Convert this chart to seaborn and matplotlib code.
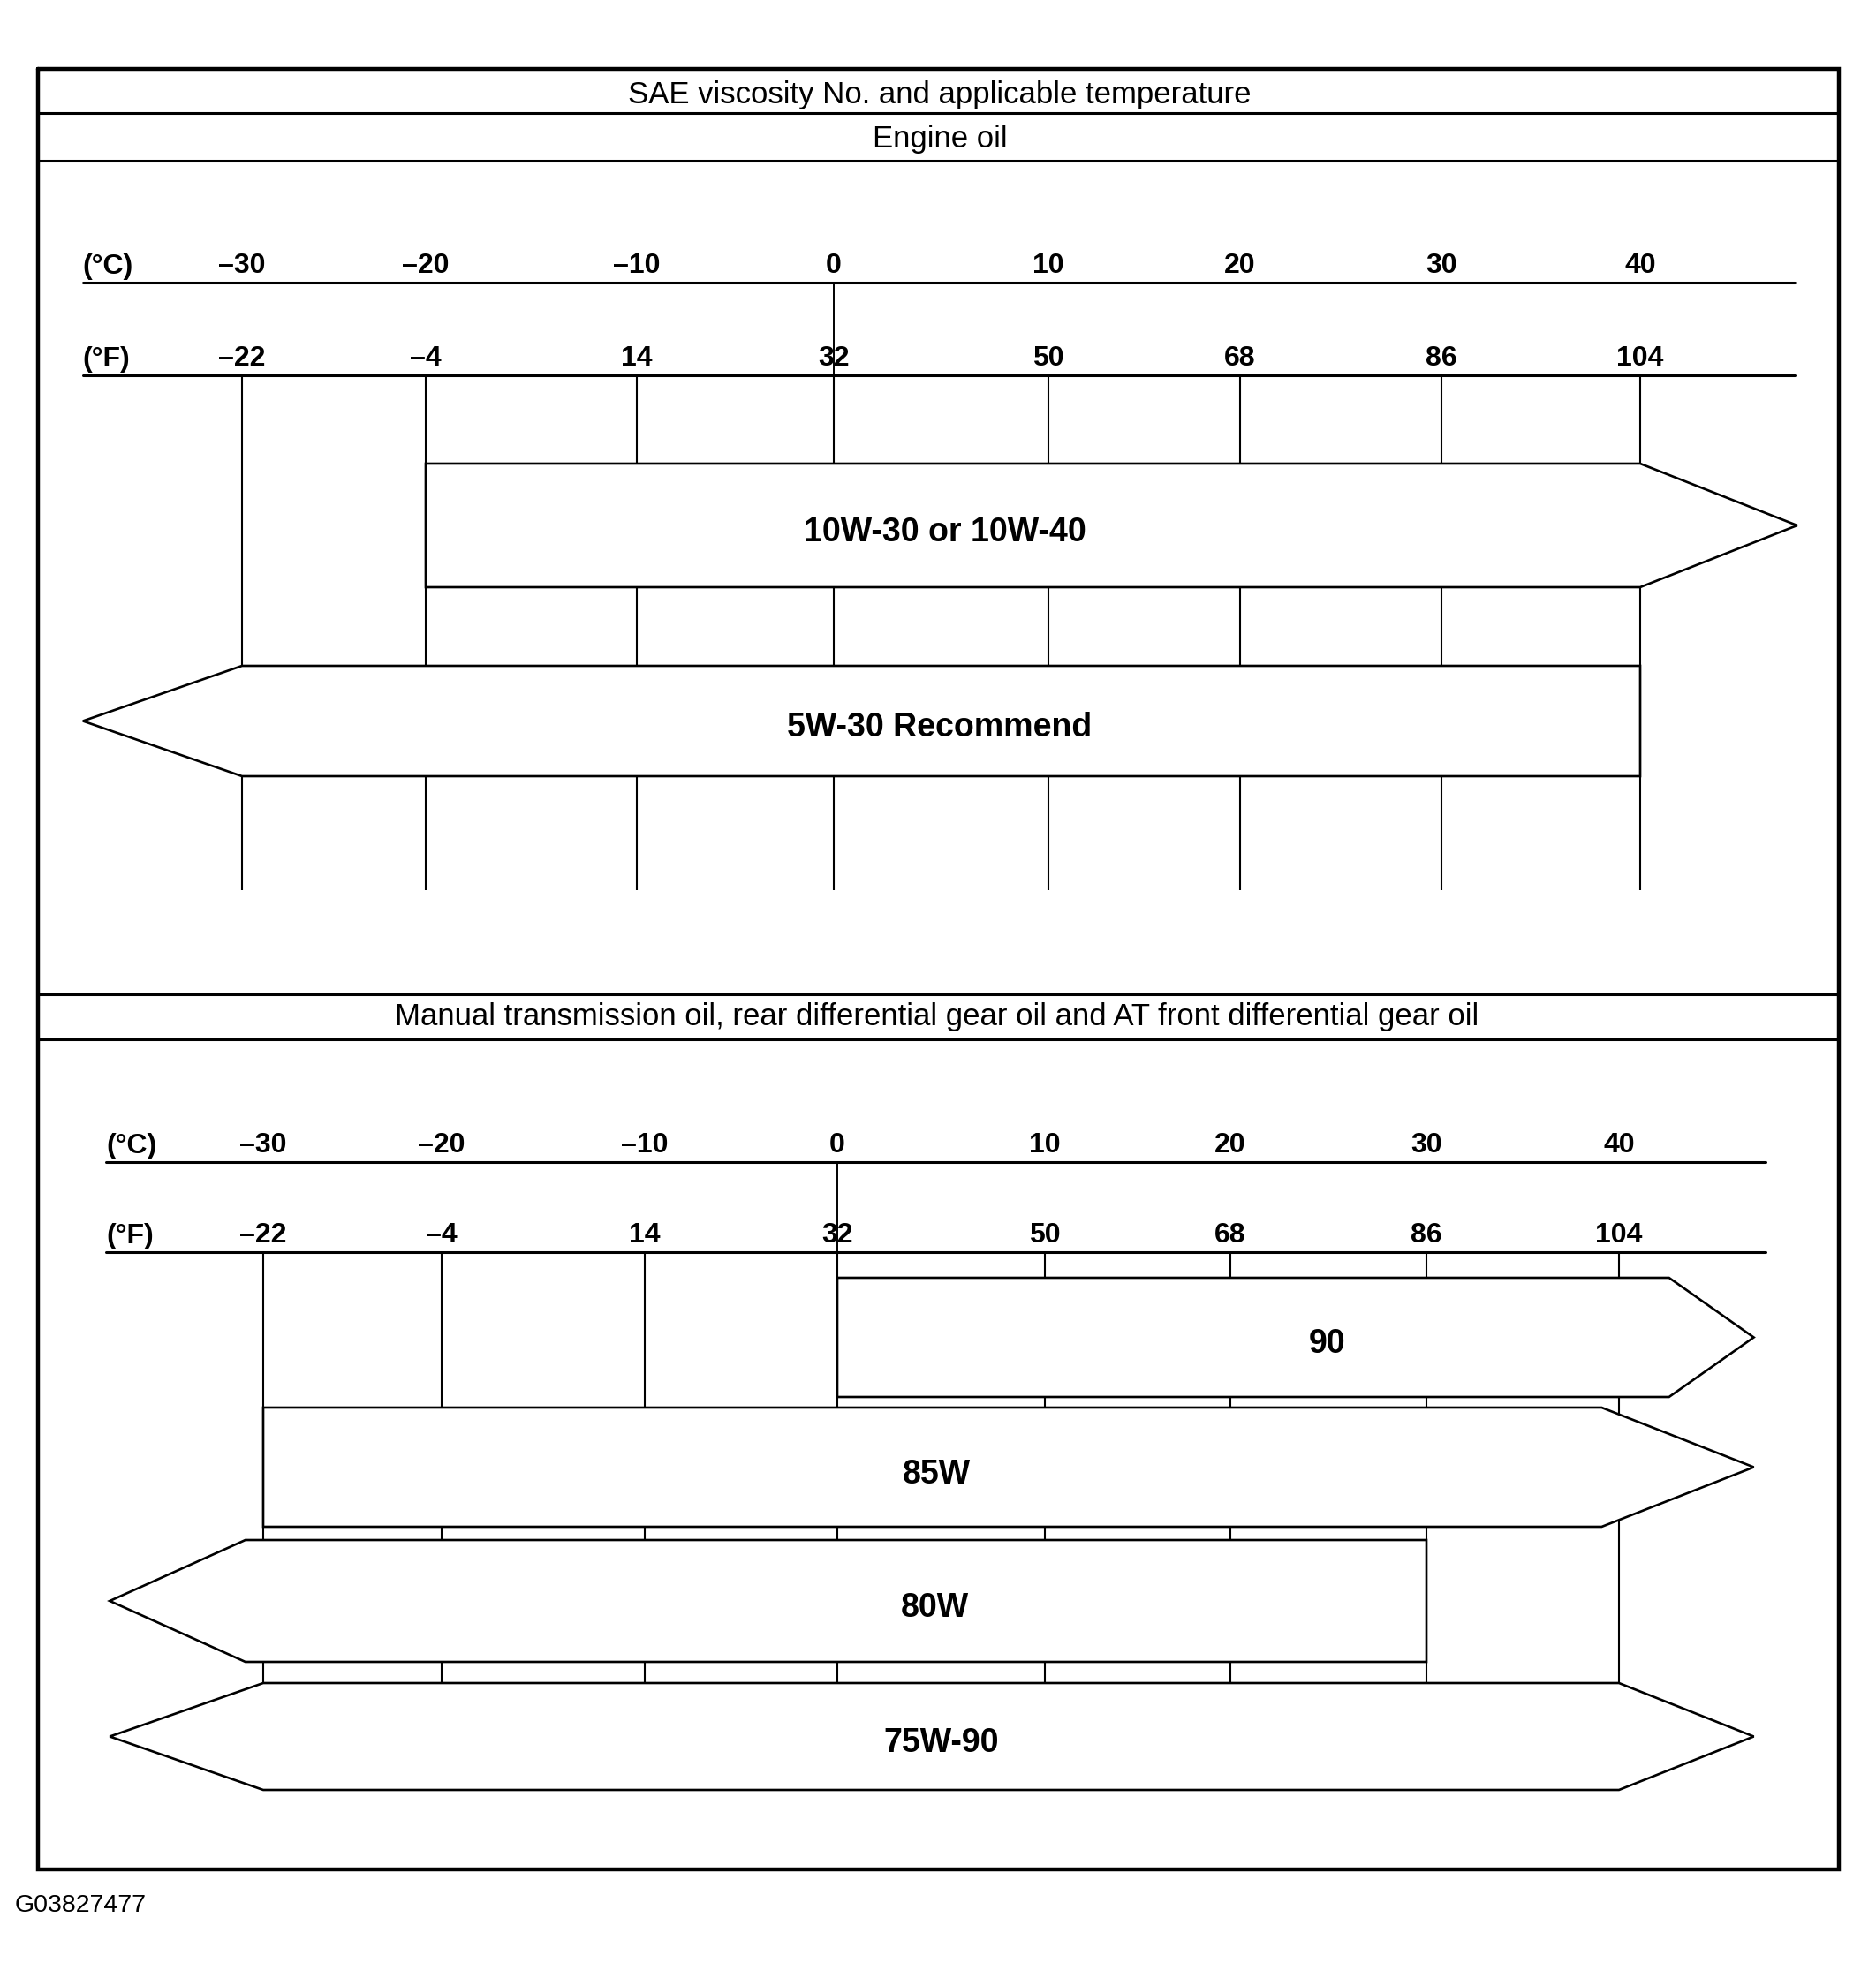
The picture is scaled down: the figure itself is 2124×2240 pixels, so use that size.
import matplotlib
matplotlib.use("Agg")
import numpy as np
import matplotlib.pyplot as plt
import seaborn as sns
from matplotlib.patches import Polygon

# ---------------- data ----------------
celsius_ticks = [-30, -20, -10, 0, 10, 20, 30, 40]
fahrenheit_ticks = [-22, -4, 14, 32, 50, 68, 86, 104]

engine_oils = ["10W-30 or 10W-40", "5W-30 Recommend"]
engine_lo = [-20, -30]          # lower applicable temperature (°C)
engine_hi = [40, 40]            # upper applicable temperature (°C)
engine_open_low = [False, True]   # range continues below
engine_open_high = [True, False]  # range continues above

gear_oils = ["90", "85W", "80W", "75W-90"]
gear_lo = [0, -30, -31, -30]
gear_hi = [42.6, 39.1, 30, 40]
gear_open_low = [False, False, True, True]
gear_open_high = [True, True, False, True]

title_main = "SAE viscosity No. and applicable temperature"
title_engine = "Engine oil"
title_gear = ("Manual transmission oil, rear differential gear oil "
              "and AT front differential gear oil")
footer = "G03827477"

# ---------------- style / layout ----------------
sns.set_theme(style="white")
plt.rcParams['font.family'] = ['Liberation Sans', 'DejaVu Sans']

W, H = 2124, 2240
fig = plt.figure(figsize=(W / 100, H / 100), dpi=100)
fig.patch.set_facecolor("white")

frame = fig.add_axes([0, 0, 1, 1])
frame.set_xlim(0, W)
frame.set_ylim(H, 0)
frame.axis("off")

# outer border and header rules
frame.plot([43, 2082, 2082, 43, 43], [78, 78, 2117, 2117, 78], color="black", lw=3.2,
           solid_joinstyle="miter")
for yy in (128, 182, 1126, 1177):
    frame.plot([43, 2082], [yy, yy], color="black", lw=2.2)

hdr = dict(ha="center", va="center", fontsize=25, color="black")
frame.text(1064, 107, title_main, **hdr)
frame.text(1064, 157, title_engine, **hdr)
frame.text(1061, 1152, title_gear, **hdr)
frame.text(17, 2158, footer, ha="left", va="center", fontsize=20.5, color="black")


def make_scale(tick_px):
    """Piecewise-linear mapping of the printed (slightly uneven) temperature scale."""
    tk = np.array(celsius_ticks, float)
    px = np.array(tick_px, float)
    s0 = (px[1] - px[0]) / (tk[1] - tk[0])
    s1 = (px[-1] - px[-2]) / (tk[-1] - tk[-2])

    def fwd(t):
        t = np.asarray(t, float)
        out = np.interp(t, tk, px)
        out = np.where(t < tk[0], px[0] + (t - tk[0]) * s0, out)
        out = np.where(t > tk[-1], px[-1] + (t - tk[-1]) * s1, out)
        return out

    def inv(p):
        p = np.asarray(p, float)
        out = np.interp(p, px, tk)
        out = np.where(p < px[0], tk[0] + (p - px[0]) / s0, out)
        out = np.where(p > px[-1], tk[-1] + (p - px[-1]) / s1, out)
        return out

    return fwd, inv


def section(tick_px, c_line, f_line, grid_bottom, scale_lo, scale_hi,
            names, lo, hi, open_low, open_high, rows, tip_lo, tip_hi, label_px):
    fwd, inv = make_scale(tick_px)
    ax = fig.add_axes([0, 0, 1, 1])
    ax.set_xscale("function", functions=(fwd, inv))
    ax.set_xlim(float(inv(0)), float(inv(W)))
    ax.set_ylim(H, 0)
    ax.axis("off")
    ax.patch.set_alpha(0)

    # scale rules
    ax.plot([scale_lo, scale_hi], [c_line, c_line], color="black", lw=2.2)
    ax.plot([scale_lo, scale_hi], [f_line, f_line], color="black", lw=2.2)
    ax.vlines(0, c_line, f_line, color="black", lw=1.4)
    # unit labels
    tk = dict(ha="center", va="bottom", fontsize=23, fontweight="bold", color="black")
    ax.text(scale_lo, c_line - 3, "(°C)", **{**tk, "ha": "left"})
    ax.text(scale_lo, f_line - 3, "(°F)", **{**tk, "ha": "left"})
    for c, f in zip(celsius_ticks, fahrenheit_ticks):
        ax.text(c, c_line - 4, f"{c}".replace("-", "–"), **tk)
        ax.text(c, f_line - 4, f"{f}".replace("-", "–"), **tk)
    # grid lines
    ax.vlines(celsius_ticks, f_line, grid_bottom, color="black", lw=1.5, zorder=1)

    # bands
    for name, a, b, ol, oh, (top, bot), lx in zip(names, lo, hi, open_low, open_high,
                                                   rows, label_px):
        mid = (top + bot) / 2
        pts = [(a, top), (b, top)]
        if oh:
            pts.append((tip_hi, mid))
        pts += [(b, bot), (a, bot)]
        if ol:
            pts.append((tip_lo, mid))
        ax.add_patch(Polygon(pts, closed=True, facecolor="white", edgecolor="black",
                             lw=1.9, zorder=2, joinstyle="miter"))
        ax.text(float(inv(lx)), mid + 8, name, ha="center", va="center", fontsize=27,
                fontweight="bold", color="black", zorder=3)
    return ax


# engine oil section
section([274, 482, 721, 944, 1187, 1404, 1632, 1857], 320, 425, 1008, -38.66, 47.77,
        engine_oils, engine_lo, engine_hi, engine_open_low, engine_open_high,
        rows=[(525, 665), (754, 879)], tip_lo=-38.66, tip_hi=47.9,
        label_px=[1070, 1064])

# gear oil section
section([298, 500, 730, 948, 1183, 1393, 1615, 1833], 1316, 1418, 1905, -38.8, 47.6,
        gear_oils, gear_lo, gear_hi, gear_open_low, gear_open_high,
        rows=[(1447, 1582), (1594, 1729), (1744, 1882), (1906, 2027)],
        tip_lo=-38.6, tip_hi=47.0,
        label_px=[1503, 1060, 1058, 1066])

fig.savefig("out.png", dpi=100, facecolor="white")
